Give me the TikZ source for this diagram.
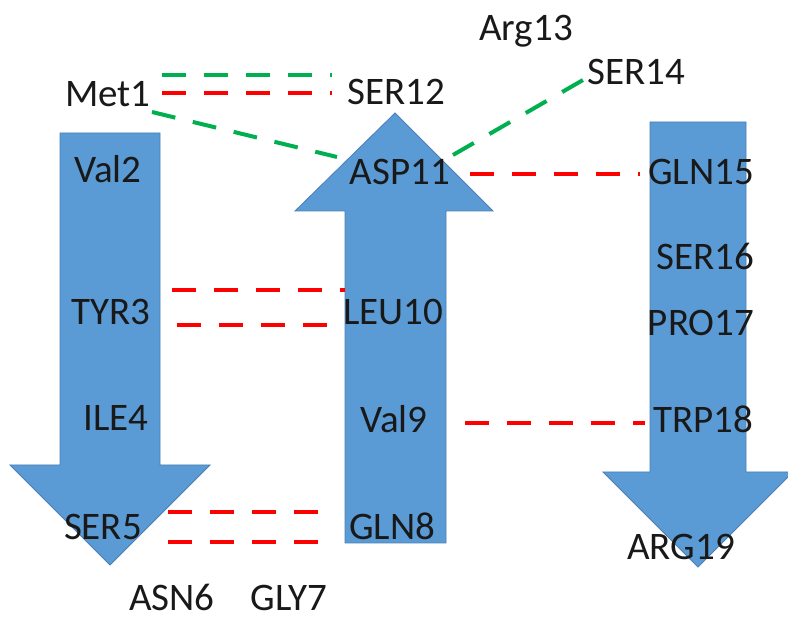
\documentclass[tikz,border=0pt]{standalone}
\usepackage{fontspec}
\setmainfont{Carlito}
\usetikzlibrary{calc}
\definecolor{sheetblue}{HTML}{5B9BD5}
\definecolor{sheetedge}{HTML}{4A7FB5}
\definecolor{hbred}{HTML}{FF0000}
\definecolor{hbgreen}{HTML}{00B050}
\begin{document}
\begin{tikzpicture}[x=1pt,y=-1pt,
  sheet/.style={fill=sheetblue,draw=sheetedge,line width=0.8pt},
  res/.style={inner sep=0pt,text height=25pt,text depth=0pt,text=black!90,font=\fontsize{39}{46}\selectfont},
  hbond/.style={line width=4pt,dash pattern=on 24pt off 18pt},
  redbond/.style={hbond,draw=hbred},
  greenbond/.style={hbond,draw=hbgreen}]
\useasboundingbox (0,0) rectangle (788,617);
\clip (0,0) rectangle (788,617);
\fill[white] (0,0) rectangle (788,617);
% strands
\draw[sheet] (60,133) -- (160,133) -- (160,465) -- (210,465) -- (110,565) -- (10,465) -- (60,465) -- cycle;
\draw[sheet] (345,543) -- (446,543) -- (446,211) -- (493,211) -- (395,113) -- (295,211) -- (345,211) -- cycle;
\draw[sheet] (650,122) -- (746,122) -- (746,472) -- (793,472) -- (698,567) -- (603,472) -- (650,472) -- cycle;
% residues
\node[res] (met1) at (108,94) {Met1};
\node[res] (val2) at (108,170) {Val2};
\node[res] (tyr3) at (111,312) {TYR3};
\node[res] (ile4) at (116,418) {ILE4};
\node[res] (ser5) at (103,527) {SER5};
\node[res] (asn6) at (172,598) {ASN6};
\node[res] (gly7) at (289,598) {GLY7};
\node[res] (gln8) at (392,527) {GLN8};
\node[res] (val9) at (394,420) {Val9};
\node[res] (leu10) at (393,312) {LEU10};
\node[res] (asp11) at (400,172) {ASP11};
\node[res] (ser12) at (396,92) {SER12};
\node[res] (arg13) at (526,28) {Arg13};
\node[res] (ser14) at (636,72) {SER14};
\node[res] (gln15) at (701,172) {GLN15};
\node[res] (ser16) at (705,257) {SER16};
\node[res] (pro17) at (701,323) {PRO17};
\node[res] (trp18) at (703,420) {TRP18};
\node[res] (arg19) at (681,547) {ARG19};
% hydrogen bonds
\draw[greenbond] ($(met1)+(54,-19)$) -- ($(ser12)+(-64,-17)$);
\draw[redbond] ($(met1)+(54,-1)$) -- ($(ser12)+(-64,1)$);
\draw[greenbond] ($(met1)+(44,18)$) -- ($(asp11)+(-63,-15)$);
\draw[greenbond] ($(asp11)+(53,-17)$) -- ($(ser14)+(-53,8)$);
\draw[redbond] ($(asp11)+(70,2)$) -- ($(gln15)+(-61,2)$);
\draw[redbond] ($(tyr3)+(61,-22)$) -- ($(leu10)+(-48,-22)$);
\draw[redbond] ($(tyr3)+(66,13)$) -- ($(leu10)+(-53,13)$);
\draw[redbond] ($(val9)+(71,3)$) -- ($(trp18)+(-58,3)$);
\draw[redbond] ($(ser5)+(65,-15)$) -- ($(gln8)+(-57,-15)$);
\draw[redbond] ($(ser5)+(65,15)$) -- ($(gln8)+(-57,15)$);
\end{tikzpicture}
\end{document}
